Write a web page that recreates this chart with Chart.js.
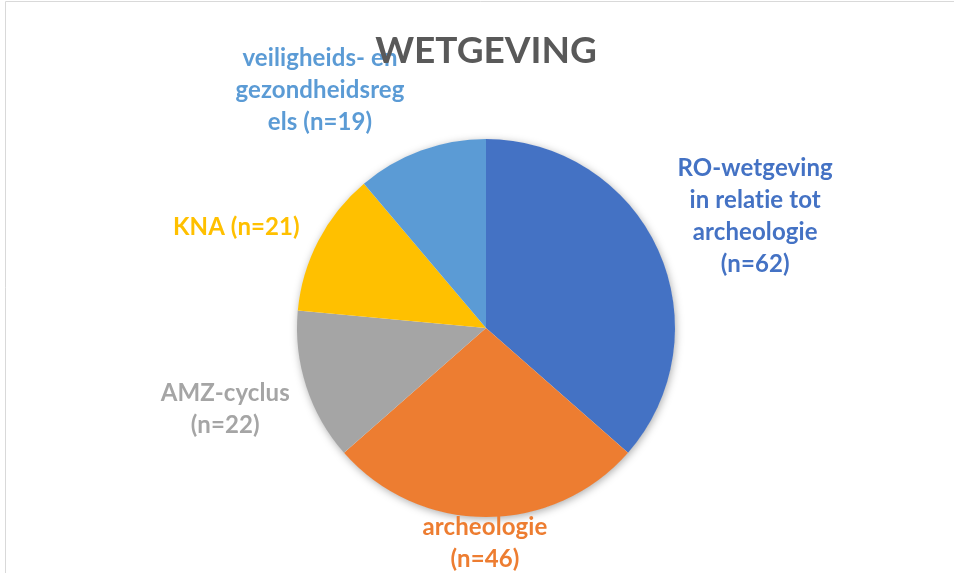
<!DOCTYPE html>
<html>
<head>
<meta charset="utf-8">
<script src="https://cdn.jsdelivr.net/npm/chart.js@4"></script>
<style>
  html, body { margin: 0; padding: 0; background: #fff; }
  #wrap { position: relative; width: 954px; height: 573px; }
</style>
</head>
<body>
<div id="wrap"><canvas id="chart" width="954" height="573"></canvas></div>
<script>
// data
const categories = ['RO-wetgeving in relatie tot archeologie', 'archeologie', 'AMZ-cyclus', 'KNA', 'veiligheids- en gezondheidsregels'];
const counts = [62, 46, 22, 21, 19];
const sliceColors = ['#4472C4', '#ED7D31', '#A5A5A5', '#FFC000', '#5B9BD5'];

// label text lines (wrapped like the original)
const labelLines = [
  ['RO-wetgeving', 'in relatie tot', 'archeologie', '(n=62)'],
  ['archeologie', '(n=46)'],
  ['AMZ-cyclus', '(n=22)'],
  ['KNA (n=21)'],
  ['veiligheids- en', 'gezondheidsreg', 'els (n=19)']
];
// label offset from the outer middle of each slice
const labelOffsets = [[97, -34], [-1, 26], [-81, 23], [-82, -13], [-101, -60]];

const FONT = 'Lato, "Open Sans", sans-serif';

const piePlugin = {
  id: 'pieExtras',
  beforeDatasetsDraw(chart) {
    const ctx = chart.ctx;
    const arc = chart.getDatasetMeta(0).data[0];
    if (!arc) return;
    // soft shadow under the pie
    ctx.save();
    ctx.shadowColor = 'rgba(0,0,0,0.35)';
    ctx.shadowBlur = 9;
    ctx.shadowOffsetX = 1;
    ctx.shadowOffsetY = 2;
    ctx.beginPath();
    ctx.arc(arc.x, arc.y, arc.outerRadius - 0.5, 0, Math.PI * 2);
    ctx.fillStyle = '#fff';
    ctx.fill();
    ctx.restore();
  },
  afterDatasetsDraw(chart) {
    const ctx = chart.ctx;
    const meta = chart.getDatasetMeta(0);
    ctx.save();
    ctx.font = 'bold 24px ' + FONT;
    ctx.letterSpacing = '0.1px'; // stops the "ti" ligature
    ctx.textAlign = 'center';
    ctx.textBaseline = 'middle';
    meta.data.forEach((a, i) => {
      const mid = (a.startAngle + a.endAngle) / 2;
      const ax = a.x + Math.cos(mid) * a.outerRadius;
      const ay = a.y + Math.sin(mid) * a.outerRadius;
      const lines = labelLines[i];
      const lh = 32;
      const cx = ax + labelOffsets[i][0];
      const cy = ay + labelOffsets[i][1];
      ctx.fillStyle = sliceColors[i];
      lines.forEach((t, k) => {
        ctx.fillText(t, cx, cy + (k - (lines.length - 1) / 2) * lh);
      });
    });
    ctx.restore();
  },
  afterDraw(chart) {
    const ctx = chart.ctx;
    ctx.save();
    // chart frame
    ctx.strokeStyle = '#D9D9D9';
    ctx.lineWidth = 1;
    ctx.beginPath();
    ctx.moveTo(5.5, 600);
    ctx.lineTo(5.5, 1.5);
    ctx.lineTo(960, 1.5);
    ctx.stroke();
    // title
    ctx.font = 'bold 37px ' + FONT;
    ctx.fillStyle = '#595959';
    ctx.textAlign = 'center';
    ctx.textBaseline = 'alphabetic';
    ctx.fillText('WETGEVING', 486, 63);
    ctx.restore();
  }
};

new Chart(document.getElementById('chart'), {
  type: 'pie',
  data: {
    labels: categories,
    datasets: [{
      data: counts,
      backgroundColor: sliceColors,
      borderWidth: 0
    }]
  },
  options: {
    responsive: false,
    animation: false,
    layout: { padding: { top: 139, bottom: 56, left: 186, right: 168 } },
    plugins: {
      legend: { display: false },
      title: { display: false },
      tooltip: { enabled: false }
    }
  },
  plugins: [piePlugin]
});
</script>
</body>
</html>
